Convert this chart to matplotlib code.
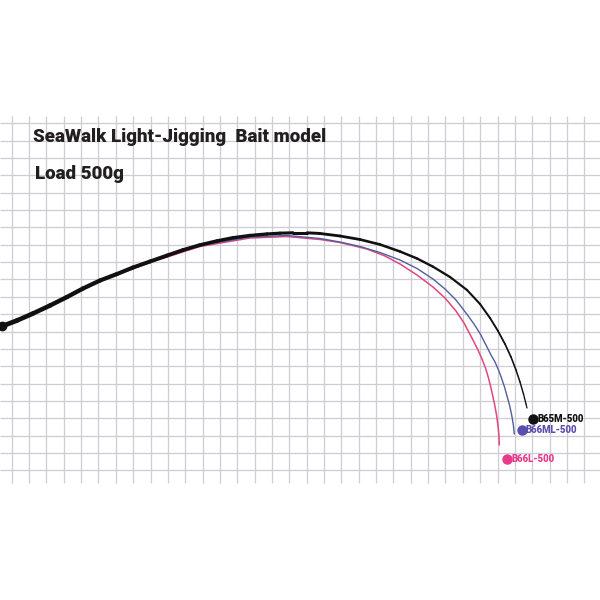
import numpy as np
import matplotlib
matplotlib.use("Agg")
import matplotlib.pyplot as plt
from matplotlib.collections import LineCollection

# rod curves (pixel coords, y grows downward)
m_x = [0, 17, 33, 50, 67, 83, 100, 117, 133, 150, 167, 183, 200, 217, 233, 250,
       267, 280, 293, 307, 320, 340, 360, 380, 400, 417, 433, 450, 467, 480,
       490, 498, 505, 511, 516, 520, 523.5, 526, 527]
m_y = [327, 320.5, 313.5, 305.5, 297, 288.5, 280.5, 274, 267.5, 261.5, 255.5,
       250, 245, 241, 237.8, 235.5, 234, 233.2, 232.8, 232.8, 233.5, 236, 239.5,
       244.5, 251.5, 258.5, 266.7, 277, 290, 304, 318, 331, 344, 357, 370, 382,
       394, 404, 408]

ml_x = [0, 33, 67, 100, 150, 200, 250, 287, 320, 340, 360, 380, 400, 417, 433,
        445, 456, 466, 474, 480, 486, 491, 495, 498.5, 501.5, 504.5, 507, 509.5,
        511.5, 513.2, 514.3]
ml_y = [327, 313.5, 297, 280.5, 261.5, 245.5, 237, 235.5, 238.5, 242, 246.5,
        252.5, 260, 268.5, 279, 289, 300, 313, 324, 333.5, 345, 355, 362, 370,
        378, 387, 396, 405, 414, 424, 434]

l_x = [0, 33, 67, 100, 150, 200, 250, 287, 320, 340, 367, 385, 400, 417, 433,
       445, 456, 464, 473, 478, 482, 485.5, 488.5, 491, 493, 495, 496.7, 498,
       499, 499.3]
l_y = [327, 313.5, 297, 281, 262.5, 246.5, 238, 236.5, 239.5, 242.5, 249,
       256, 264, 275, 287, 298, 311, 323, 340, 350, 359, 368, 378, 388, 397,
       406.5, 416, 426, 436, 445]

names = ["B65M-500", "B66ML-500", "B66L-500"]
label_xy = [(533, 419), (521.5, 430), (507, 459)]
colors = ["#111111", "#5b4fae", "#e8398c"]
line_colors = ["#111111", "#4f5f9e", "#e2467f"]

title = "SeaWalk Light-Jigging  Bait model"
subtitle = "Load 500g"

fig = plt.figure(figsize=(6, 6), dpi=100)
ax = fig.add_axes([0, 0, 1, 1])
ax.set_xlim(0, 600)
ax.set_ylim(600, 0)
ax.axis("off")

# graph paper
grid_top, grid_bottom = 116, 483
step = 17.35
xs = np.arange(11.7, 600, step)
ys = np.arange(123.3, grid_bottom, step)
ax.vlines(xs, grid_top, grid_bottom, color="#cdcdd6", lw=0.9, zorder=1)
ax.hlines(ys, 0, 600, color="#cdcdd6", lw=0.9, zorder=1)

# thinner rods first, the thick black one on top
ax.plot(l_x, l_y, color=line_colors[2], lw=1.1, zorder=3, solid_capstyle="round",
        solid_joinstyle="round")
ax.plot(ml_x, ml_y, color=line_colors[1], lw=1.0, zorder=4, solid_capstyle="round",
        solid_joinstyle="round")

pts = np.column_stack([m_x, m_y])
segs = np.stack([pts[:-1], pts[1:]], axis=1)
widths = np.linspace(3.4, 0.9, len(segs))
ax.add_collection(LineCollection(segs, linewidths=widths, colors=line_colors[0],
                                 capstyle="round", joinstyle="round", zorder=5))
# butt end of the blank
ax.plot(m_x[0] + 2, m_y[0] - 1, "o", ms=6, color=line_colors[0], zorder=5)

# labels at the tips
for name, (lx, ly), c in zip(names, label_xy, colors):
    ax.plot(lx, ly, "o", ms=6.5, color=c, zorder=6)
    ax.text(lx + 4.5, ly, name, color=c, fontsize=6.9, fontweight=900,
            family="Roboto", va="center", ha="left", zorder=6)

ax.text(33, 142, title, fontsize=13.5, fontweight=900, family="Roboto",
        color="#231f20", va="baseline", zorder=6)
ax.text(35, 179, subtitle, fontsize=13.5, fontweight=900, family="Roboto",
        color="#231f20", va="baseline", zorder=6)

fig.savefig("out.png", dpi=100, facecolor="white")
